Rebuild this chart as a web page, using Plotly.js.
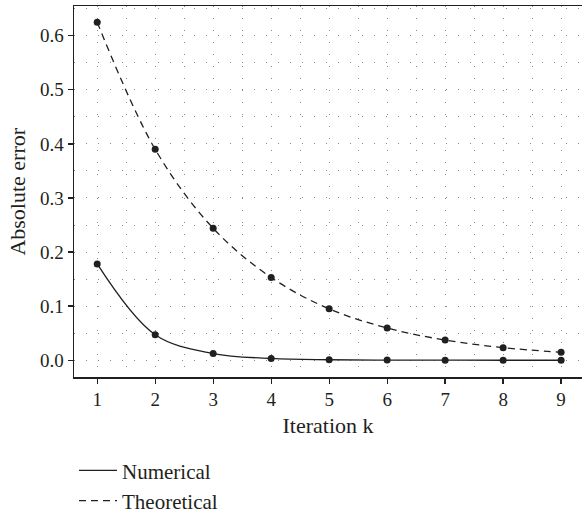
<!DOCTYPE html>
<html>
<head>
<meta charset="utf-8">
<script src="https://cdn.plot.ly/plotly-3.0.1.min.js"></script>
<style>html,body{margin:0;padding:0;background:#fff;}#chart{width:582px;height:514px;}</style>
</head>
<body>
<div id="chart"></div>
<script>
const iterations = [1, 2, 3, 4, 5, 6, 7, 8, 9];
const numericalError = [0.178, 0.047, 0.0124, 0.0033, 0.00087, 0.00023, 0.00006, 0.000016, 0.000004];
const theoreticalError = [0.625, 0.390, 0.244, 0.153, 0.095, 0.0596, 0.0373, 0.0233, 0.0146];
const seriesNames = ["Numerical", "Theoretical"];
const xTitle = "Iteration k";
const yTitle = "Absolute error";

const ink = "#231f20";
const family = "Liberation Serif, DejaVu Serif, serif";
const tickFont = {family: family, size: 19, color: ink};
const titleFont = {family: family, size: 22, color: ink};
const legendFont = {family: family, size: 21, color: ink};
const gridDash = "1px,11px";
const gridColor = "#8a8a8a";

const series = [
  {y: numericalError, name: seriesNames[0], dash: "solid"},
  {y: theoreticalError, name: seriesNames[1], dash: "7px,5px"}
];

const traces = [];
series.forEach((s, i) => {
  traces.push({x: iterations, y: s.y, name: s.name, type: "scatter", mode: "lines",
    legendgroup: "g" + i, showlegend: true,
    line: {color: ink, width: 1.3, shape: "spline", dash: s.dash}});
  traces.push({x: iterations, y: s.y, name: s.name, type: "scatter", mode: "markers",
    legendgroup: "g" + i, showlegend: false,
    marker: {color: ink, size: 7}});
});

const layout = {
  width: 582, height: 514,
  margin: {l: 74, r: 0, t: 6, b: 137},
  paper_bgcolor: "#fff", plot_bgcolor: "#fff",
  font: tickFont,
  showlegend: true,
  legend: {x: 0.0, xref: "paper", y: 0.124, yref: "container", xanchor: "left", yanchor: "top",
           orientation: "v", font: legendFont, tracegroupgap: 0, itemwidth: 38, bgcolor: "rgba(0,0,0,0)"},
  xaxis: {
    range: [0.6, 9.36], dtick: 1, tick0: 1, automargin: false,
    showline: true, linecolor: ink, linewidth: 1.5, mirror: true,
    ticks: "outside", ticklen: 5, tickcolor: ink, tickwidth: 1.3,
    showgrid: true, griddash: gridDash, gridcolor: gridColor, gridwidth: 1,
    minor: {dtick: 0.5, tick0: 0.5, showgrid: true, griddash: gridDash, gridcolor: gridColor, gridwidth: 1},
    zeroline: false,
    title: {text: xTitle, font: titleFont, standoff: 8},
    tickfont: tickFont
  },
  yaxis: {
    range: [-0.031, 0.655], dtick: 0.1, tick0: 0, tickformat: ".1f", automargin: false,
    showline: true, linecolor: ink, linewidth: 1.5, mirror: false,
    ticks: "outside", ticklen: 5, tickcolor: ink, tickwidth: 1.3,
    showgrid: true, griddash: gridDash, gridcolor: gridColor, gridwidth: 1,
    minor: {dtick: 0.05, tick0: 0, showgrid: true, griddash: gridDash, gridcolor: gridColor, gridwidth: 1},
    zeroline: false,
    tickfont: tickFont
  },
  annotations: [
    {text: yTitle, xref: "paper", yref: "paper", x: -0.112, y: 0.5, xanchor: "center", yanchor: "middle",
     textangle: -90, showarrow: false, font: titleFont}
  ]
};

Plotly.newPlot("chart", traces, layout, {displayModeBar: false, staticPlot: true});
</script>
</body>
</html>
